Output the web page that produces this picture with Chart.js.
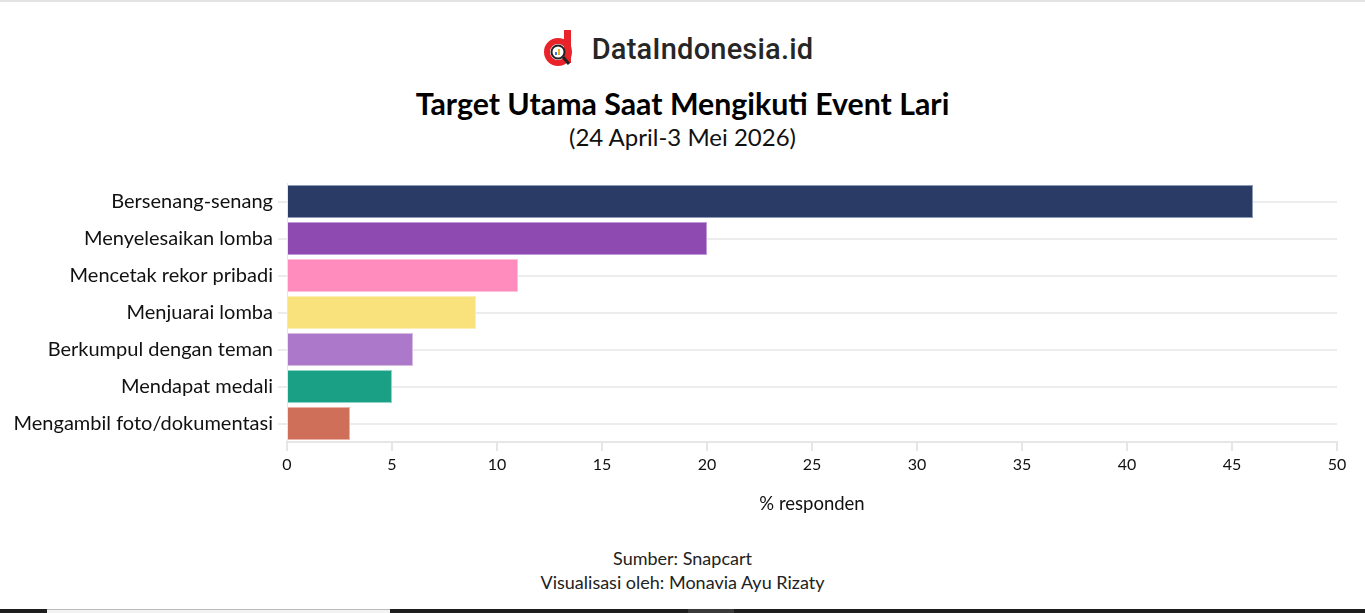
<!DOCTYPE html>
<html>
<head>
<meta charset="utf-8">
<script src="https://cdn.jsdelivr.net/npm/chart.js@4/dist/chart.umd.min.js"></script>
<style>
  html, body { margin: 0; padding: 0; background: #fff; }
  body { width: 1365px; height: 613px; position: relative; overflow: hidden; font-family: Lato, sans-serif; color: #111; }
  .topline { position: absolute; left: 0; top: 0; width: 1365px; height: 2px; background: #e3e3e3; }
  .logo { position: absolute; left: -4px; width: 1365px; top: 30px; text-align: center; }
  .logo span { font-family: Roboto, sans-serif; font-weight: 500; font-size: 29px; color: #262626; vertical-align: middle; letter-spacing: 0.2px; }
  .logo svg { vertical-align: middle; margin-right: 16px; }
  .title { position: absolute; left: 0; width: 1365px; top: 85px; text-align: center; font-weight: 700; font-size: 30.3px; color: #000; }
  .subtitle { position: absolute; left: 0; width: 1365px; top: 122px; text-align: center; font-size: 24px; color: #111; }
  .foot { position: absolute; left: 0; width: 1365px; text-align: center; font-size: 18px; color: #222; }
  #wrap { position: absolute; left: 0; top: 166px; width: 1365px; height: 354px; }
  .taskbar { position: absolute; left: 0; top: 609px; width: 1365px; height: 4px; background: #1e1e1e; }
  .taskbar .box { position: absolute; left: 47px; top: 0; width: 343px; height: 4px; background: #f2f2f2; border-top: 1px solid #bbb; box-sizing: border-box; }
  .taskbar .blk { position: absolute; left: 688px; top: 0; width: 46px; height: 4px; background: #3a3a3a; }
</style>
</head>
<body>
<div class="topline"></div>
<div class="logo">
  <svg width="32" height="38" viewBox="0 0 32 38">
    <rect x="20" y="0" width="7" height="33" fill="#e8232a"/>
    <circle cx="14" cy="22" r="11" fill="none" stroke="#e8232a" stroke-width="6"/>
    <circle cx="14" cy="22" r="6.5" fill="#fff" stroke="#222" stroke-width="2"/>
    <rect x="11" y="22" width="2" height="3" fill="#2a7de1"/>
    <rect x="14" y="19" width="2" height="6" fill="#f2b01e"/>
    <line x1="19" y1="27" x2="25" y2="34" stroke="#222" stroke-width="3"/>
  </svg><span>DataIndonesia.id</span>
</div>
<div class="title">Target Utama Saat Mengikuti Event Lari</div>
<div class="subtitle">(24 April-3 Mei 2026)</div>
<div id="wrap"><canvas id="chart"></canvas></div>
<div class="foot" style="top:547px">Sumber: Snapcart</div>
<div class="foot" style="top:571px">Visualisasi oleh: Monavia Ayu Rizaty</div>
<div class="taskbar"><div class="box"></div><div class="blk"></div></div>

<script>
// data
var categories = ["Bersenang-senang", "Menyelesaikan lomba", "Mencetak rekor pribadi",
    "Menjuarai lomba", "Berkumpul dengan teman", "Mendapat medali", "Mengambil foto/dokumentasi"];
var responden = [46, 20, 11, 9, 6, 5, 3];
var xTicks = [0, 5, 10, 15, 20, 25, 30, 35, 40, 45, 50];

var barColors = ["#2a3c66", "#8f4ab1", "#ff8cbc", "#f9e27b", "#ac78c9", "#1aa185", "#cf6f5a"];
var barBorders = ["#8c9ab8", "#c09ad6", "#ffc0da", "#fcefb5", "#d8bce6", "#8fd6c6", "#eab3a6"];

var ctx = document.getElementById("chart");
var myChart = new Chart(ctx, {
    type: "bar",
    data: {
        labels: categories,
        datasets: [{
            label: "% responden",
            data: responden,
            backgroundColor: barColors,
            borderColor: barBorders,
            borderWidth: 1,
            barPercentage: 0.89,
            categoryPercentage: 1
        }]
    },
    options: {
        indexAxis: "y",
        responsive: true,
        maintainAspectRatio: false,
        animation: false,
        layout: { padding: { top: 9, right: 28, left: 0, bottom: 0 } },
        plugins: {
            legend: { display: false },
            tooltip: { enabled: false }
        },
        scales: {
            x: {
                min: 0,
                max: 50,
                afterBuildTicks: function(scale) {
                    scale.ticks = xTicks.map(function(v) { return { value: v }; });
                },
                afterFit: function(scale) { scale.height = 78; },
                grid: { drawOnChartArea: false, color: "#e6e6e6", tickLength: 9, lineWidth: 2 },
                border: { color: "#e6e6e6", width: 2 },
                ticks: { color: "#111", font: { family: "Lato", size: 16 }, padding: 4, maxRotation: 0 },
                title: {
                    display: true,
                    text: "% responden",
                    color: "#111",
                    font: { family: "Lato", size: 18.5 },
                    padding: { top: 0, bottom: 5 }
                }
            },
            y: {
                afterFit: function(scale) { scale.width = 287; },
                grid: { offset: false, color: "#ececec", tickLength: 9, lineWidth: 2 },
                border: { color: "#e6e6e6", width: 1 },
                ticks: { color: "#111", font: { family: "Lato", size: 20 }, padding: 5 }
            }
        }
    }
});
</script>
</body>
</html>
